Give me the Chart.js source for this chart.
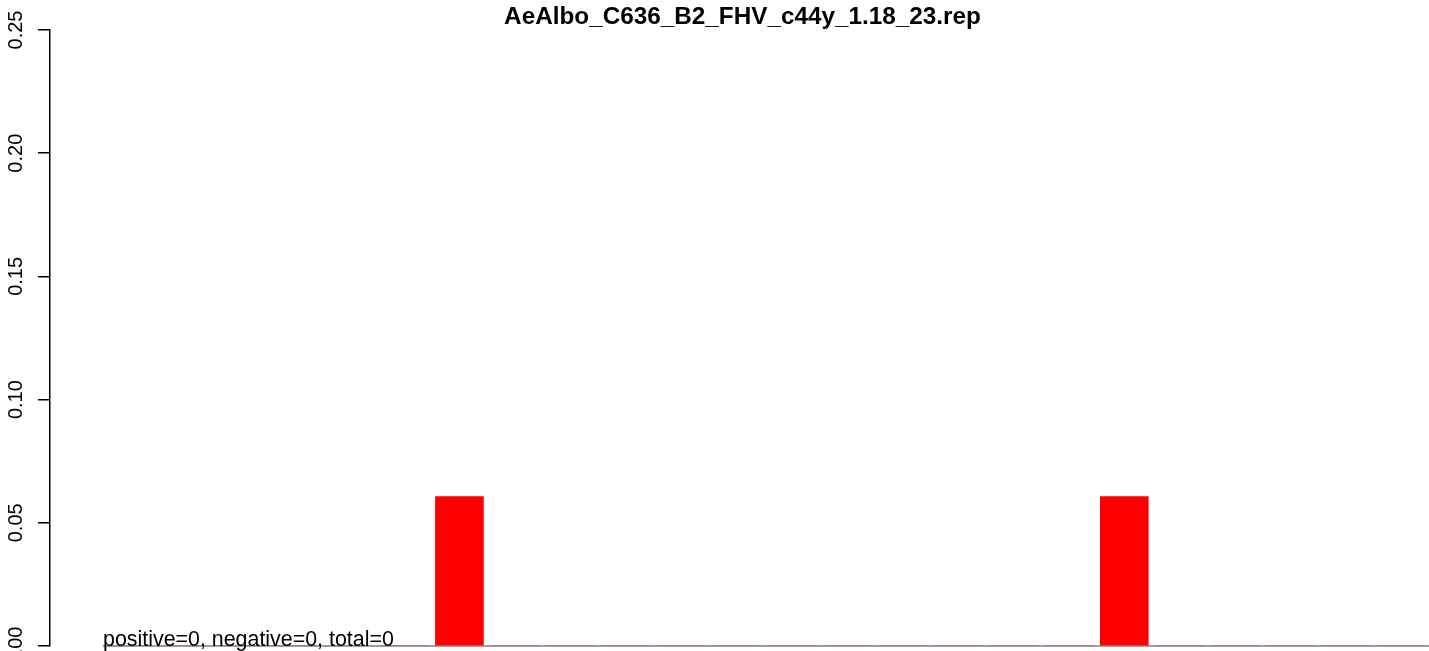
<!DOCTYPE html>
<html>
<head>
<meta charset="utf-8">
<script src="https://cdn.jsdelivr.net/npm/chart.js@4"></script>
<style>
  html, body { margin: 0; padding: 0; background: #fff; }
  #wrap { width: 1429px; height: 651px; position: relative; }
</style>
</head>
<body>
<div id="wrap"><canvas id="repChart"></canvas></div>
<script>
// bar positions along the read (1..24) and their fractions
const positions = [1, 2, 3, 4, 5, 6, 7, 8, 9, 10, 11, 12, 13, 14, 15, 16, 17, 18, 19, 20, 21, 22, 23, 24];
const values = [0, 0, 0, 0, 0, 0, 0.0606, 0, 0, 0, 0, 0, 0, 0, 0, 0, 0, 0, 0.0606, 0, 0, 0, 0, 0];
const yTicks = [0, 0.05, 0.1, 0.15, 0.2, 0.25];
const yTickLabels = ["0.00", "0.05", "0.10", "0.15", "0.20", "0.25"];
const chartTitle = "AeAlbo_C636_B2_FHV_c44y_1.18_23.rep";
const noteText = "positive=0, negative=0, total=0";

const BAR_W = 48;

// draws the R-like extras: title, grey baseline, note, rotated y labels
const extrasPlugin = {
  id: "extras",
  beforeDatasetsDraw(chart) {
    const ctx = chart.ctx;
    const x = chart.scales.x;
    const y = chart.scales.y;
    const y0 = y.getPixelForValue(0);
    ctx.save();
    ctx.strokeStyle = "#a0a0a0";
    ctx.lineWidth = 2;
    ctx.beginPath();
    ctx.moveTo(x.getPixelForValue(positions[0]) - BAR_W / 2, y0);
    ctx.lineTo(chart.chartArea.right, y0);
    ctx.stroke();
    ctx.restore();
  },
  afterDraw(chart) {
    const ctx = chart.ctx;
    const x = chart.scales.x;
    const y = chart.scales.y;
    const area = chart.chartArea;
    ctx.save();

    // title
    ctx.fillStyle = "#000";
    ctx.font = "bold 24.3px 'Liberation Sans', Arial, sans-serif";
    ctx.textAlign = "center";
    ctx.textBaseline = "alphabetic";
    ctx.fillText(chartTitle, (area.left + area.right) / 2 + 3, 24);

    // note on the baseline
    ctx.font = "21.4px 'Liberation Sans', Arial, sans-serif";
    ctx.textAlign = "left";
    ctx.fillText(noteText, x.getPixelForValue(positions[0]) - BAR_W / 2, y.getPixelForValue(0));

    // rotated y tick labels
    ctx.font = "20px 'Liberation Sans', Arial, sans-serif";
    ctx.textAlign = "center";
    yTicks.forEach(function (v, i) {
      ctx.save();
      ctx.translate(22, y.getPixelForValue(v));
      ctx.rotate(-Math.PI / 2);
      ctx.fillText(yTickLabels[i], 0, 0);
      ctx.restore();
    });
    ctx.restore();
  },
};

const ctx = document.getElementById("repChart").getContext("2d");
new Chart(ctx, {
  type: "bar",
  data: {
    datasets: [
      {
        data: positions.map((p, i) => ({ x: p, y: values[i] })),
        backgroundColor: "#ff0000",
        borderWidth: 0,
        barThickness: BAR_W,
      },
    ],
  },
  options: {
    responsive: true,
    maintainAspectRatio: false,
    animation: false,
    layout: { padding: { top: 30, bottom: 5, left: 0, right: 0 } },
    plugins: {
      legend: { display: false },
      title: { display: false },
      tooltip: { enabled: false },
    },
    scales: {
      x: {
        type: "linear",
        display: false,
        min: -0.39,
        max: 24.5,
        offset: false,
      },
      y: {
        min: 0,
        max: 0.25,
        afterFit(scale) {
          scale.width = 50;
        },
        afterBuildTicks(scale) {
          scale.ticks = yTicks.map((v) => ({ value: v }));
        },
        grid: {
          display: true,
          drawOnChartArea: false,
          drawTicks: true,
          tickLength: 12,
          color: "#000",
          lineWidth: 1.5,
        },
        border: { display: true, color: "#000", width: 1.5 },
        ticks: { display: false },
      },
    },
  },
  plugins: [extrasPlugin],
});
</script>
</body>
</html>
